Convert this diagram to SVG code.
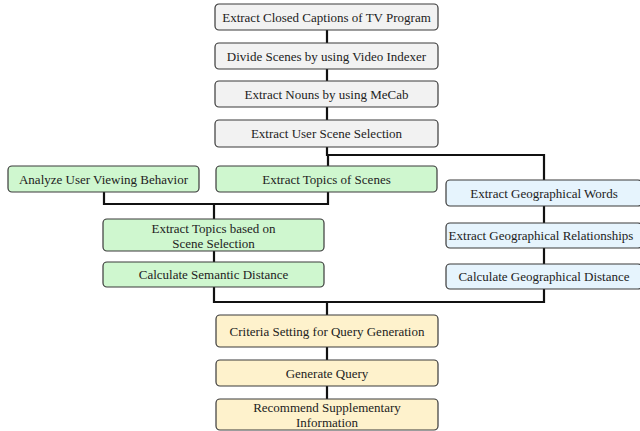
<svg xmlns="http://www.w3.org/2000/svg" width="640" height="431" viewBox="0 0 640 431">
<style>
.b{stroke:#3a3a3a;stroke-width:1.2}
.g{fill:#f2f2f2}.gr{fill:#cff7cf}.bl{fill:#e6f4fd}.y{fill:#fef2cc}
text{font-family:"Liberation Serif","Times New Roman",serif;font-size:13px;fill:#222;text-anchor:middle;dominant-baseline:central}
.c{fill:none;stroke:#111;stroke-width:2.2}
</style>
<rect width="640" height="431" fill="#fff"/>
<g id="connectors">
<path class="c" d="M327 30V43M327 69V81M327 107V120M327 147V155H544V180M328 155V166"/>
<path class="c" d="M104 192V204H328V192M214 204V219M214 251V262"/>
<path class="c" d="M544 206V223M544 248V264"/>
<path class="c" d="M214 287V302H544V289M327 302V315M327 347V360M327 386V399"/>
</g>
<g id="n1"><rect class="b g" x="215" y="4" width="223" height="26" rx="4"/><text x="326.5" y="17">Extract Closed Captions of TV Program</text></g>
<g id="n2"><rect class="b g" x="215" y="43" width="223" height="26" rx="4"/><text x="326.5" y="56">Divide Scenes by using Video Indexer</text></g>
<g id="n3"><rect class="b g" x="215" y="81" width="223" height="26" rx="4"/><text x="326.5" y="94">Extract Nouns by using MeCab</text></g>
<g id="n4"><rect class="b g" x="215" y="120" width="223" height="27" rx="4"/><text x="326.5" y="133.5">Extract User Scene Selection</text></g>
<g id="n5"><rect class="b gr" x="8" y="166" width="191" height="26" rx="4"/><text x="103.5" y="179">Analyze User Viewing Behavior</text></g>
<g id="n6"><rect class="b gr" x="216" y="166" width="221" height="26" rx="4"/><text x="326.5" y="179">Extract Topics of Scenes</text></g>
<g id="n7"><rect class="b gr" x="103" y="219" width="221" height="32" rx="4"/><text x="213.5" y="228">Extract Topics based on</text><text x="213.5" y="243">Scene Selection</text></g>
<g id="n8"><rect class="b gr" x="103" y="262" width="221" height="25" rx="4"/><text x="213.5" y="274.5">Calculate Semantic Distance</text></g>
<g id="n9"><rect class="b bl" x="446" y="180" width="196" height="26" rx="4"/><text x="544" y="193">Extract Geographical Words</text></g>
<g id="n10"><rect class="b bl" x="446" y="223" width="196" height="25" rx="4"/><text x="541" y="235.5">Extract Geographical Relationships</text></g>
<g id="n11"><rect class="b bl" x="446" y="264" width="196" height="25" rx="4"/><text x="544" y="276.5">Calculate Geographical Distance</text></g>
<g id="n12"><rect class="b y" x="216" y="315" width="222" height="32" rx="4"/><text x="327" y="331">Criteria Setting for Query Generation</text></g>
<g id="n13"><rect class="b y" x="216" y="360" width="222" height="26" rx="4"/><text x="327" y="373">Generate Query</text></g>
<g id="n14"><rect class="b y" x="216" y="399" width="222" height="31" rx="4"/><text x="327" y="407.5">Recommend Supplementary</text><text x="327" y="422">Information</text></g>
</svg>
